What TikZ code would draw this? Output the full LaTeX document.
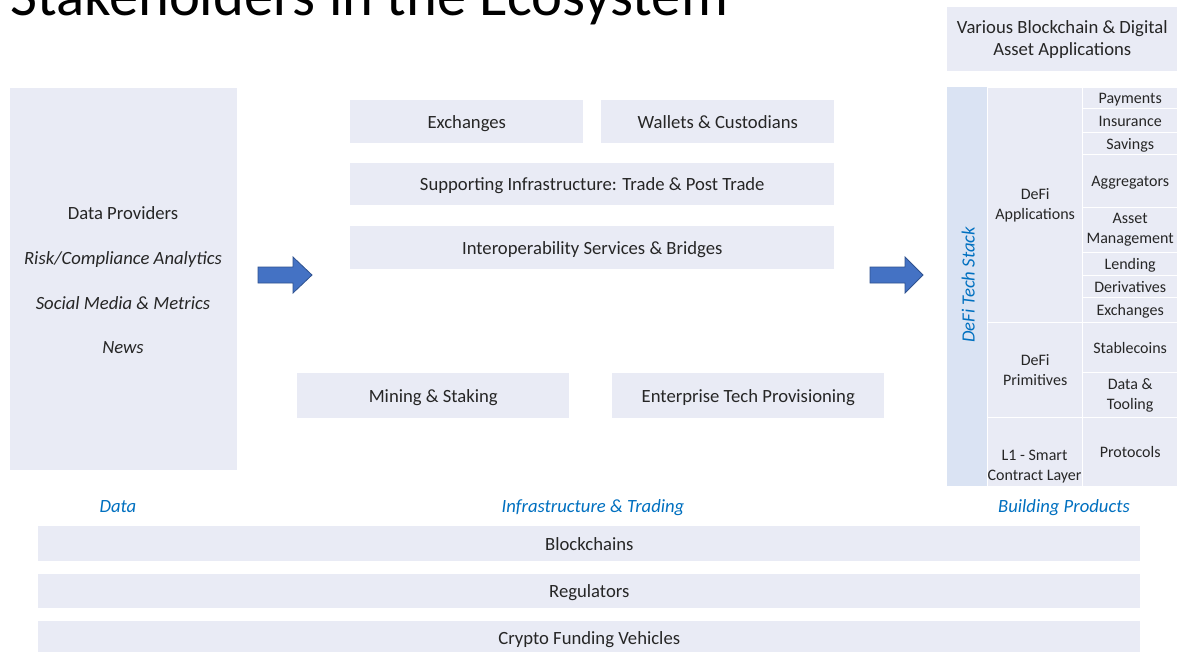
\documentclass[tikz,border=0pt]{standalone}
\usepackage{fontspec}
\setmainfont{Carlito}
\definecolor{boxfill}{HTML}{E9EBF5}
\definecolor{stripfill}{HTML}{DAE3F3}
\definecolor{txt}{HTML}{262626}
\definecolor{lblue}{HTML}{0070C0}
\definecolor{arrowfill}{HTML}{4472C4}
\definecolor{arrowedge}{HTML}{2F528F}
\begin{document}
\begin{tikzpicture}[x=0.75pt,y=-0.75pt,
  tbig/.style={text height=12.4pt, text depth=2.4pt},
  tsmall/.style={text height=10.6pt, text depth=2.0pt},
  multi/.style={text height=, text depth=},
  box/.style={tbig, fill=boxfill, draw=none, inner sep=0pt, anchor=north west, text=txt, align=center, font=\fontsize{14}{16.5}\selectfont},
  cell/.style={box, tsmall, draw=white, line width=1pt, font=\fontsize{12}{15}\selectfont},
  sz/.style 2 args={minimum width=#1*0.75pt, minimum height=#2*0.75pt},
  txtnode/.style={tbig, inner sep=0pt, text=txt, align=center, font=\fontsize{14}{16.5}\selectfont},
  smalltxt/.style={inner sep=0pt, text=txt, align=center, font=\fontsize{12}{15}\selectfont},
  lbl/.style={tbig, inner sep=0pt, text=lblue, font=\fontsize{14}{16.5}\selectfont\itshape},
  blockarrow/.style={fill=arrowfill, draw=arrowedge, line width=0.6pt, line join=miter}]
\useasboundingbox (0,0) rectangle (1180,651);
\clip (0,0) rectangle (1180,651);
\fill[white] (0,0) rectangle (1180,651);

% title (cut off at top, as in the reference)
\node[anchor=base west, inner sep=0pt, text=black, font=\fontsize{44}{44}\selectfont] (title) at (10,15) {Stakeholders in the Ecosystem};

% data column
\node[box, sz={227}{382}] (data) at (10,88) {};
\node[txtnode] (dp) at (123,213) {Data Providers};
\node[txtnode, font=\fontsize{14}{16.5}\selectfont\itshape] (risk) at (123,258) {Risk/Compliance Analytics};
\node[txtnode, font=\fontsize{14}{16.5}\selectfont\itshape] (social) at (123,303) {Social Media \& Metrics};
\node[txtnode, font=\fontsize{14}{16.5}\selectfont\itshape] (news) at (123,347) {News};

% arrows
\path[blockarrow] (258,267) -- (293,267) -- (293,257) -- (312,275) -- (293,293) -- (293,283) -- (258,283) -- cycle;
\path[blockarrow] (870,267) -- (905,267) -- (905,257) -- (923,275) -- (905,293) -- (905,283) -- (870,283) -- cycle;

% infrastructure & trading
\node[box, sz={233}{43}] (exch) at (350,100) {Exchanges};
\node[box, sz={233}{43}] (wallets) at (601,100) {Wallets \& Custodians};
\node[box, sz={484}{42}] (supp) at (350,163) {Supporting Infrastructure: Trade \& Post Trade};
\node[box, sz={484}{43}] (interop) at (350,226) {Interoperability Services \& Bridges};
\node[box, sz={272}{45}] (mining) at (297,373) {Mining \& Staking};
\node[box, sz={272}{45}] (enterprise) at (612,373) {Enterprise Tech Provisioning};

% building products
\node[box, multi, sz={230}{64}] (various) at (947,7) {Various Blockchain \& Digital\\Asset Applications};
\node[box, fill=stripfill, sz={40}{399}] (strip) at (947,87) {};
\node[lbl, rotate=90] (stack) at (968,285) {DeFi Tech Stack};
\node[cell, multi, sz={95}{235}] (apps) at (987,87) {DeFi\\Applications};
\node[cell, multi, sz={95}{95}] (prims) at (987,322) {DeFi\\Primitives};
\node[cell, sz={95}{69}] (l1) at (987,417) {};
\node[smalltxt] (l1txt) at (1034.5,467) {L1 - Smart\\Contract Layer};
\node[cell, sz={95}{21}] (pay) at (1082,87) {Payments};
\node[cell, sz={95}{24}] (ins) at (1082,108) {Insurance};
\node[cell, sz={95}{22}] (sav) at (1082,132) {Savings};
\node[cell, sz={95}{53}] (agg) at (1082,154) {Aggregators};
\node[cell, multi, sz={95}{45}] (asset) at (1082,207) {Asset\\Management};
\node[cell, sz={95}{23}] (lend) at (1082,252) {Lending};
\node[cell, sz={95}{22}] (deriv) at (1082,275) {Derivatives};
\node[cell, sz={95}{25}] (dexch) at (1082,297) {Exchanges};
\node[cell, sz={95}{50}] (stable) at (1082,322) {Stablecoins};
\node[cell, multi, sz={95}{45}] (tool) at (1082,372) {Data \&\\Tooling};
\node[cell, sz={95}{69}] (proto) at (1082,417) {Protocols};

% column labels
\node[lbl] (ldata) at (118,506) {Data};
\node[lbl] (linfra) at (593,506) {Infrastructure \& Trading};
\node[lbl] (lbuild) at (1064,506) {Building Products};

% bottom bars
\node[box, sz={1102}{35}] (chains) at (38,526) {Blockchains};
\node[box, sz={1102}{34}] (regs) at (38,574) {Regulators};
\node[box, sz={1102}{34}] (funds) at (38,621) {Crypto Funding Vehicles};
\end{tikzpicture}
\end{document}
